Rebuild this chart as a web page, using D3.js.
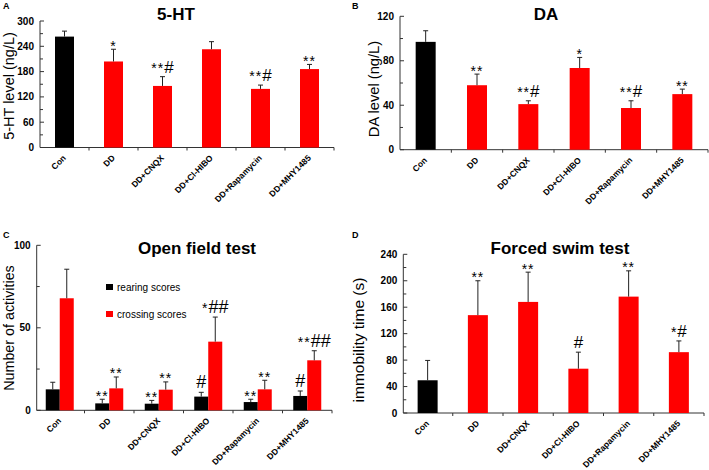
<!DOCTYPE html>
<html><head><meta charset="utf-8">
<script src="https://cdn.jsdelivr.net/npm/d3@7"></script>
<style>
body{margin:0;background:#fff;}
svg{display:block;font-family:Arial,"Liberation Sans",sans-serif;}
</style></head>
<body>
<svg id="chart" width="709" height="470"></svg>
<script>
const categories = ["Con","DD","DD+CNQX","DD+Cl-HIBO","DD+Rapamycin","DD+MHY1485"];

const htValues = [263, 204, 146, 233, 139, 186];
const htErr    = [13, 29, 22, 18, 9, 11];
const htMarks  = ["", "*", "**#", "", "**#", "**"];
const htTicks  = [0, 60, 120, 180, 240, 300];

const daValues = [97, 58, 41, 73.5, 37.5, 50];
const daErr    = [10, 10, 3, 9.5, 6.5, 4.5];
const daMarks  = ["", "**", "**#", "*", "**#", "**"];
const daTicks  = [0, 40, 80, 120];

const rearing     = [12.7, 4.2, 4.0, 8.3, 5.0, 8.7];
const rearingErr  = [4.3, 2.5, 2.0, 2.6, 1.7, 3.0];
const rearingMarks= ["", "**", "**", "#", "**", "#"];
const crossing    = [67.9, 13.3, 12.5, 41.6, 12.7, 30.3];
const crossingErr = [17.6, 6.9, 4.7, 14.9, 5.5, 5.8];
const crossingMarks=["", "**", "**", "*##", "**", "**##"];
const ofTicks = [0, 50, 100];
const seriesNames = ["rearing scores", "crossing scores"];

const swimValues = [49.5, 148, 168, 67, 176, 92];
const swimErr    = [30, 52, 45, 25, 39, 17];
const swimMarks  = ["", "**", "**", "#", "**", "*#"];
const swimTicks  = [0, 40, 80, 120, 160, 200, 240];

const svg = d3.select("#chart");
const RED = "#ff0000", BLACK = "#000000";

function mark(g, x, errTop, str, big) {
  if (!str) return;
  const hasHash = str.indexOf("#") >= 0;
  const y = hasHash ? errTop - 4 : errTop + 1.5;
  const t = g.append("text").attr("x", x).attr("y", y).attr("text-anchor","middle").attr("fill","#000");
  const parts = str.match(/\*+|#+/g);
  parts.forEach(p => {
    const isHash = p[0] === "#";
    t.append("tspan").text(p)
      .attr("font-size", isHash ? (big||17) : 14)
      .attr("letter-spacing", isHash ? 0 : 1);
  });
}

function panel(cfg) {
  const g = svg.append("g");
  const x = d3.scaleBand().domain(categories).range(cfg.xr).paddingInner(0).paddingOuter(0);
  const y = d3.scaleLinear().domain([0, cfg.max]).range(cfg.yr);
  const x0 = cfg.axisX;
  g.append("line").attr("x1", x0).attr("x2", x0).attr("y1", y(0)).attr("y2", y(cfg.max)).attr("stroke","#333").attr("stroke-width",1);
  const minor = [];
  for (let i = 0; i < cfg.ticks.length - 1; i++) minor.push((cfg.ticks[i] + cfg.ticks[i+1]) / 2);
  g.selectAll(null).data(cfg.ticks).join("line")
    .attr("x1", x0).attr("x2", x0 + 4).attr("y1", d => y(d)).attr("y2", d => y(d)).attr("stroke","#333");
  g.selectAll(null).data(minor).join("line")
    .attr("x1", x0).attr("x2", x0 + 3).attr("y1", d => y(d)).attr("y2", d => y(d)).attr("stroke","#333");
  g.selectAll(null).data(cfg.ticks).join("text")
    .attr("x", x0 - 6).attr("y", d => y(d) + 3.5).attr("text-anchor","end")
    .attr("font-size", 10).attr("font-weight","bold").text(d => d);
  g.append("line").attr("x1", x0).attr("x2", cfg.xr[1]).attr("y1", y(0)).attr("y2", y(0)).attr("stroke","#333");
  g.selectAll(null).data(categories).join("line")
    .attr("x1", (d,i) => cfg.xr[0] + x.bandwidth()*(i+1)).attr("x2", (d,i) => cfg.xr[0] + x.bandwidth()*(i+1))
    .attr("y1", y(0)).attr("y2", y(0) + 3).attr("stroke","#333");
  g.selectAll(null).data(categories).join("text")
    .attr("transform", d => `translate(${x(d) + x.bandwidth()/2 + 2},${y(0) + 11}) rotate(-45)`)
    .attr("text-anchor","end").attr("font-size", 8.5).attr("font-weight","bold").text(d => d);
  g.append("text").attr("x", cfg.title[1]).attr("y", cfg.title[2]).attr("text-anchor","middle")
    .attr("font-size", 17).attr("font-weight","bold").text(cfg.title[0]);
  g.append("text").attr("x", cfg.letter[1]).attr("y", cfg.letter[2])
    .attr("font-size", 9).attr("font-weight","bold").text(cfg.letter[0]);
  g.append("text").attr("transform", `translate(${cfg.ylab[1]},${cfg.ylab[2]}) rotate(-90)`)
    .attr("text-anchor","middle").attr("font-size", cfg.ylab[3]).text(cfg.ylab[0]);
  return {g, x, y};
}

function bars(p, series, groupOffset, width, colors) {
  series.forEach((s, si) => {
    const cx = categories.map(c => p.x(c) + p.x.bandwidth()/2 + groupOffset[si]);
    p.g.selectAll(null).data(s.values).join("rect")
      .attr("x", (d,i) => cx[i] - width/2).attr("width", width)
      .attr("y", d => p.y(d)).attr("height", d => p.y(0) - p.y(d))
      .attr("fill", (d,i) => colors[si] || (i === 0 ? BLACK : RED));
    p.g.selectAll(null).data(s.values).join("line")
      .attr("x1", (d,i) => cx[i]).attr("x2", (d,i) => cx[i])
      .attr("y1", d => p.y(d)).attr("y2", (d,i) => p.y(d + s.err[i])).attr("stroke","#222").attr("stroke-width",1);
    p.g.selectAll(null).data(s.values).join("line")
      .attr("x1", (d,i) => cx[i] - 2.5).attr("x2", (d,i) => cx[i] + 2.5)
      .attr("y1", (d,i) => p.y(d + s.err[i])).attr("y2", (d,i) => p.y(d + s.err[i])).attr("stroke","#222");
    s.values.forEach((d,i) => mark(p.g, cx[i], p.y(d + s.err[i]), s.marks[i], s.big));
  });
}

// Panel A
const pA = panel({xr:[40,334], yr:[147.5,21], max:300, axisX:40, ticks:htTicks,
  title:["5-HT",176,20], letter:["A",3,9], ylab:["5-HT level (ng/L)",14,86,14.5]});
bars(pA, [{values:htValues, err:htErr, marks:htMarks}], [0], 19, [null]);

// Panel B
const pB = panel({xr:[400,708], yr:[149.7,16.3], max:120, axisX:400, ticks:daTicks,
  title:["DA",546,20], letter:["B",352,9], ylab:["DA level (ng/L)",379,89,14.7]});
bars(pB, [{values:daValues, err:daErr, marks:daMarks}], [0], 20, [null]);

// Panel C
const pC = panel({xr:[35,332], yr:[410.3,245.3], max:100, axisX:36.7, ticks:ofTicks,
  title:["Open field test",197,254], letter:["C",3,238], ylab:["Number of activities",14,328,14.3]});
bars(pC, [
  {values:rearing, err:rearingErr, marks:rearingMarks, big:18},
  {values:crossing, err:crossingErr, marks:crossingMarks, big:18}
], [-7, 7], 14, [BLACK, RED]);
const legend = pC.g.append("g");
[BLACK, RED].forEach((c,i) => {
  legend.append("rect").attr("x",106).attr("y",284 + i*27).attr("width",7).attr("height",6).attr("fill",c);
  legend.append("text").attr("x",117).attr("y",290.5 + i*27).attr("font-size",10).text(seriesNames[i]);
});

// Panel D
const pD = panel({xr:[402.5,704], yr:[413,254.3], max:240, axisX:403.3, ticks:swimTicks,
  title:["Forced swim test",560,254], letter:["D",352,238], ylab:["immobility time (s)",364,340,15.5]});
bars(pD, [{values:swimValues, err:swimErr, marks:swimMarks}], [0], 20, [null]);
</script>
</body></html>
